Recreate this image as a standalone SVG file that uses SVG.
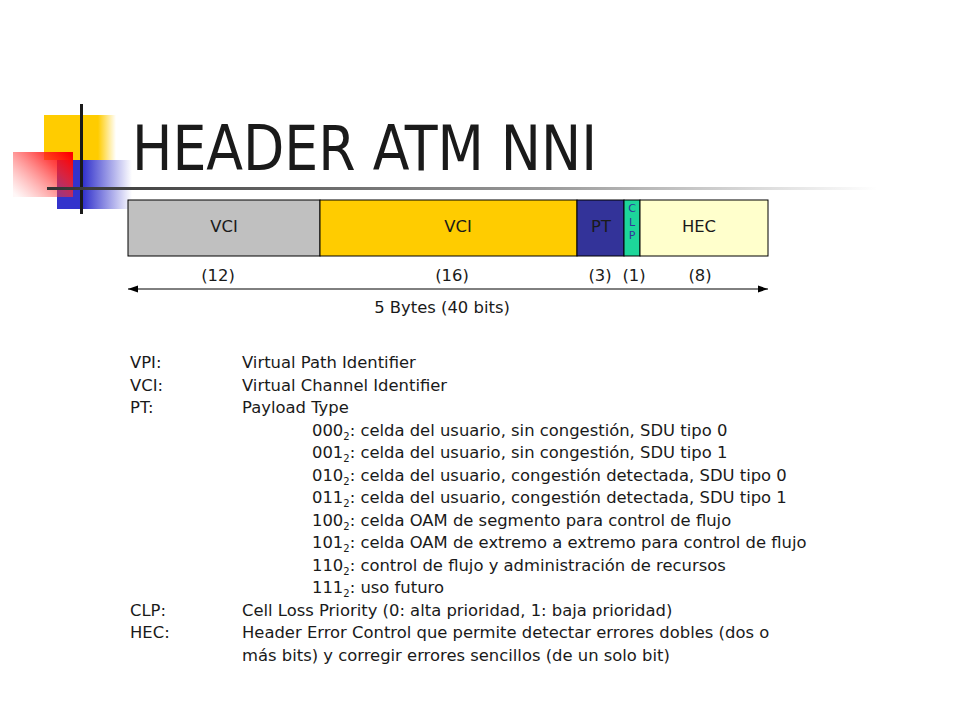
<svg xmlns="http://www.w3.org/2000/svg" width="960" height="720" viewBox="0 0 960 720">
<defs>
<linearGradient id="gY" x1="0" y1="0" x2="1" y2="0"><stop offset="0.75" stop-color="#FFCC00"/><stop offset="1" stop-color="#FFCC00" stop-opacity="0"/></linearGradient>
<linearGradient id="gB" x1="0" y1="0" x2="1" y2="0"><stop offset="0.35" stop-color="#3333CC"/><stop offset="1" stop-color="#3333CC" stop-opacity="0"/></linearGradient>
<linearGradient id="gR" x1="1" y1="0.1" x2="0" y2="0.9"><stop offset="0" stop-color="#FF0000"/><stop offset="0.3" stop-color="#FF2020" stop-opacity="0.8"/><stop offset="1" stop-color="#FF6060" stop-opacity="0.05"/></linearGradient>
<linearGradient id="gL" x1="0" y1="0" x2="1" y2="0"><stop offset="0" stop-color="#333333"/><stop offset="0.6" stop-color="#999999"/><stop offset="1" stop-color="#FFFFFF"/></linearGradient>
<marker id="ah" viewBox="0 0 10 10" refX="10" refY="5" markerWidth="10" markerHeight="10" markerUnits="userSpaceOnUse" orient="auto-start-reverse"><path d="M0,1.5 L10,5 L0,8.5 Z" fill="#000"/></marker>
<style>
text{font-family:"DejaVu Sans",sans-serif;fill:#1a1a1a}
.t{font-size:16.4px}
.c{text-anchor:middle}
.sub{font-size:10px}
.box{stroke:#000;stroke-width:1}
.clpl{font-size:11px;fill:#333399;text-anchor:middle}
</style>
</defs>
<g id="decoration">
<rect x="44" y="115" width="72" height="45" fill="url(#gY)"/>
<rect x="57" y="160" width="75" height="49" fill="url(#gB)"/>
<rect x="13" y="152" width="60" height="45" fill="url(#gR)"/>
<rect x="80" y="104" width="3" height="110" fill="#1a1a1a"/>
<rect x="47" y="187" width="830" height="3" fill="url(#gL)"/>
</g>
<g id="title"><text x="132" y="170" font-size="62" textLength="465" lengthAdjust="spacingAndGlyphs" style="font-family:'DejaVu Sans Condensed','DejaVu Sans',sans-serif">HEADER ATM NNI</text></g>
<g id="header-bar">
<g id="vci1"><rect class="box" x="128" y="200" width="192" height="56" fill="#C0C0C0"/><text class="t c" x="224" y="232">VCI</text></g>
<g id="vci2"><rect class="box" x="320" y="200" width="257" height="56" fill="#FFCC00"/><text class="t c" x="458" y="232">VCI</text></g>
<g id="pt"><rect class="box" x="577" y="200" width="47" height="56" fill="#333399"/><text class="t c" x="601" y="232">PT</text></g>
<g id="clp"><rect class="box" x="624" y="200" width="16" height="56" fill="#1DD69A"/>
<text class="clpl" x="632" y="212">C</text>
<text class="clpl" x="632" y="225.5">L</text>
<text class="clpl" x="632" y="239">P</text></g>
<g id="hec"><rect class="box" x="640" y="200" width="128" height="56" fill="#FFFFCC"/><text class="t c" x="699" y="232">HEC</text></g>
</g>
<g id="bits">
<text class="t c" x="218" y="281">(12)</text>
<text class="t c" x="452" y="281">(16)</text>
<text class="t c" x="600" y="281">(3)</text>
<text class="t c" x="634" y="281">(1)</text>
<text class="t c" x="700" y="281">(8)</text>
</g>
<g id="connectors"><line x1="128" y1="289" x2="768" y2="289" stroke="#000" stroke-width="1" marker-start="url(#ah)" marker-end="url(#ah)"/></g>
<text class="t c" x="442" y="313">5 Bytes (40 bits)</text>
<g id="legend">
<text class="t" x="130" y="368">VPI:</text><text class="t" x="242" y="368">Virtual Path Identifier</text>
<text class="t" x="130" y="391">VCI:</text><text class="t" x="242" y="391">Virtual Channel Identifier</text>
<text class="t" x="130" y="413">PT:</text><text class="t" x="242" y="413">Payload Type</text>
<text class="t" x="312" y="436">000<tspan class="sub" dy="4">2</tspan><tspan dy="-4">: celda del usuario, sin congestión, SDU tipo 0</tspan></text>
<text class="t" x="312" y="458">001<tspan class="sub" dy="4">2</tspan><tspan dy="-4">: celda del usuario, sin congestión, SDU tipo 1</tspan></text>
<text class="t" x="312" y="481">010<tspan class="sub" dy="4">2</tspan><tspan dy="-4">: celda del usuario, congestión detectada, SDU tipo 0</tspan></text>
<text class="t" x="312" y="503">011<tspan class="sub" dy="4">2</tspan><tspan dy="-4">: celda del usuario, congestión detectada, SDU tipo 1</tspan></text>
<text class="t" x="312" y="526">100<tspan class="sub" dy="4">2</tspan><tspan dy="-4">: celda OAM de segmento para control de flujo</tspan></text>
<text class="t" x="312" y="548">101<tspan class="sub" dy="4">2</tspan><tspan dy="-4">: celda OAM de extremo a extremo para control de flujo</tspan></text>
<text class="t" x="312" y="571">110<tspan class="sub" dy="4">2</tspan><tspan dy="-4">: control de flujo y administración de recursos</tspan></text>
<text class="t" x="312" y="593">111<tspan class="sub" dy="4">2</tspan><tspan dy="-4">: uso futuro</tspan></text>
<text class="t" x="130" y="616">CLP:</text><text class="t" x="242" y="616">Cell Loss Priority (0: alta prioridad, 1: baja prioridad)</text>
<text class="t" x="130" y="638">HEC:</text><text class="t" x="242" y="638">Header Error Control que permite detectar errores dobles (dos o</text>
<text class="t" x="242" y="661">más bits) y corregir errores sencillos (de un solo bit)</text>
</g>
</svg>
